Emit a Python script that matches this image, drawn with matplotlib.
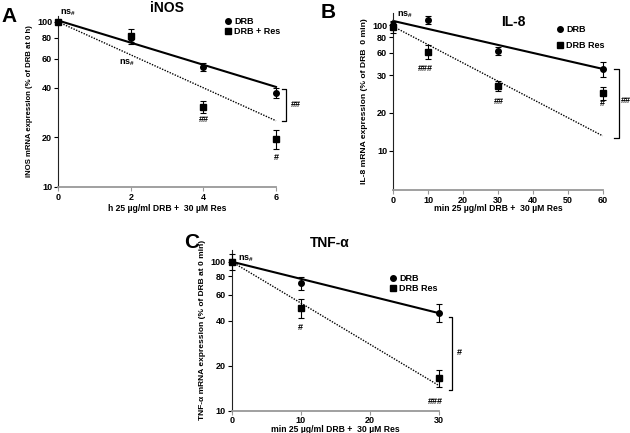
import numpy as np
import matplotlib
matplotlib.use('Agg')
import matplotlib.pyplot as plt

plt.rcParams['font.family'] = ['Liberation Sans', 'DejaVu Sans']
plt.rcParams['font.weight'] = 'bold'
plt.rcParams['mathtext.default'] = 'regular'

# ---- data ----
# A: iNOS, hours
a_t = [0, 2, 4, 6]
a_drb = [100, 80, 53.6, 37.3]
a_drb_err = [2, 4, 2.8, 2.7]
a_res = [100, 82, 30.7, 19.6]
a_res_err = [3, 8.5, 2.6, 2.7]
a_fit_t = [0, 6]
a_fit_drb = [102, 40.4]
a_fit_res = [100, 25.2]

# B: IL-8, minutes
b_t = [0, 10, 30, 60]
b_drb = [100, 110, 62.4, 44.8]
b_drb_err = [6, 7.5, 5, 6]
b_res = [97, 61.5, 32.8, 28.7]
b_res_err = [11, 8, 3.2, 3.2]
b_fit_t = [0, 60]
b_fit_drb = [108, 44.8]
b_fit_res = [97.5, 13.1]

# C: TNF-alpha, minutes
c_t = [0, 10, 30]
c_drb = [100, 71.6, 45.5]
c_drb_err = [4, 7, 6.4]
c_res = [100, 49.1, 16.6]
c_res_err = [12, 7, 2.2]
c_fit_t = [0, 30]
c_fit_drb = [100, 45.1]
c_fit_res = [100, 14.7]

W, H = 630, 433
fig = plt.figure(figsize=(W / 100, H / 100), dpi=100)


def px_axes(x0, x1, y_top, y_bot):
    return fig.add_axes([x0 / W, (H - y_bot) / H, (x1 - x0) / W, (y_bot - y_top) / H])


def style(ax, xlim, ylim, xticks, yticks, ylabels):
    ax.set_yscale('log')
    ax.set_xlim(*xlim)
    ax.set_ylim(*ylim)
    ax.set_xticks(xticks)
    ax.set_yticks(yticks)
    ax.set_yticklabels(ylabels)
    ax.yaxis.set_minor_locator(matplotlib.ticker.NullLocator())
    ax.spines['top'].set_visible(False)
    ax.spines['right'].set_visible(False)
    ax.spines['left'].set_color('#222222')
    ax.spines['bottom'].set_color('#999999')
    ax.spines['bottom'].set_linewidth(1.3)
    ax.tick_params(axis='both', labelsize=6.5, length=3, width=0.8, pad=1.5)
    ax.tick_params(axis='x', colors='#999999', labelcolor='black', pad=1)
    for lab in ax.get_xticklabels() + ax.get_yticklabels():
        lab.set_fontweight('bold')


def draw(ax, t, drb, drb_err, res, res_err, fit_t, fit_drb, fit_res, cap):
    ax.plot(fit_t, fit_drb, color='black', lw=1.5, clip_on=False, zorder=2)
    ax.plot(fit_t, fit_res, color='black', lw=1.0, ls=(0, (1, 1)), clip_on=False, zorder=2)
    ax.errorbar(t, drb, yerr=drb_err, fmt='o', color='black', ms=4, capsize=cap,
                elinewidth=0.8, capthick=0.8, clip_on=False, zorder=3)
    ax.errorbar(t, res, yerr=res_err, fmt='s', color='black', ms=4, capsize=cap,
                elinewidth=0.8, capthick=0.8, clip_on=False, zorder=3)


def bracket(ax, x0, x1, y0, y1):
    ax.plot([x0, x1, x1, x0], [y0, y0, y1, y1], color='black', lw=0.9, clip_on=False)


def legend(ax, labels, x, y, spacing):
    handles = [matplotlib.lines.Line2D([], [], marker=m, ls='none', color='black', ms=4)
               for m in ['o', 's']]
    ax.legend(handles, labels, loc='upper left', bbox_to_anchor=(x / W, (H - y) / H),
              bbox_transform=fig.transFigure, frameon=False, fontsize=6.5,
              handlelength=0.6, handletextpad=0.4, labelspacing=spacing,
              borderpad=0, borderaxespad=0)


ns = r'ns$_{\#}$'
txt = dict(fontsize=6.5, fontweight='bold', ha='center', va='center')

# ---- panel A ----
axA = px_axes(58.3, 276, 16, 187)
style(axA, (0, 6), (10, 108.7), a_t, [10, 20, 40, 60, 80, 100],
      ['10', '20', '40', '60', '80', '100'])
draw(axA, a_t, a_drb, a_drb_err, a_res, a_res_err, a_fit_t, a_fit_drb, a_fit_res, 2.5)
axA.set_xlabel('h 25 µg/ml DRB +  30 µM Res', fontsize=6.2, fontweight='bold', labelpad=2)
axA.set_ylabel('iNOS mRNA expression (% of DRB at 0 h)', fontsize=5.6,
               fontweight='bold', labelpad=3)
axA.text(0.05, 114, ns, fontsize=6.5, ha='left', va='center')
axA.text(1.9, 57, ns, fontsize=6.5, ha='center', va='center')
axA.text(4, 25.5, '##', **txt)
axA.text(6, 15, '#', **txt)
bracket(axA, 6.17, 6.28, 39, 25.2)
axA.text(6.42, 31.4, '##', fontsize=6.5, fontweight='bold', ha='left', va='center')
legend(axA, ['DRB', 'DRB + Res'], 225, 17, 0.15)
fig.text(167 / W, (H - 8) / H, 'iNOS', fontsize=10, fontweight='bold', ha='center', va='center')
fig.text(9 / W, (H - 16) / H, 'A', fontsize=15, fontweight='bold', ha='center', va='center')

# ---- panel B ----
axB = px_axes(393.3, 602.7, 13, 190)
style(axB, (0, 60), (4.85, 125), [0, 10, 20, 30, 40, 50, 60], [10, 20, 40, 60, 80, 100],
      ['10', '20', '30', '60', '80', '100'])
draw(axB, b_t, b_drb, b_drb_err, b_res, b_res_err, b_fit_t, b_fit_drb, b_fit_res, 2.5)
axB.set_xlabel('min 25 µg/ml DRB +  30 µM Res', fontsize=6.2, fontweight='bold', labelpad=-0.5)
axB.set_ylabel('IL-8 mRNA expression (% of DRB  0 min)', fontsize=6.1,
               fontweight='bold', labelpad=3)
axB.text(1.0, 121, ns, fontsize=6.5, ha='left', va='center')
axB.text(9.1, 44.8, '###', **txt)
axB.text(30.1, 24.4, '##', **txt)
axB.text(60, 23.8, '#', **txt)
bracket(axB, 63.3, 64.6, 44.6, 12.7)
axB.text(65.2, 24.9, '##', fontsize=6.5, fontweight='bold', ha='left', va='center')
legend(axB, ['DRB', 'DRB Res'], 557, 25, 0.75)
fig.text(513 / W, (H - 22) / H, 'IL-8', fontsize=10, fontweight='bold', ha='center', va='center')
fig.text(328 / W, (H - 12) / H, 'B', fontsize=15, fontweight='bold', ha='center', va='center')

# ---- panel C ----
axC = px_axes(231.7, 439.3, 250, 410.7)
style(axC, (0, 30), (10, 119.8), [0, 10, 20, 30], [10, 20, 40, 60, 80, 100],
      ['10', '20', '40', '60', '80', '100'])
draw(axC, c_t, c_drb, c_drb_err, c_res, c_res_err, c_fit_t, c_fit_drb, c_fit_res, 2.5)
axC.set_xlabel('min 25 µg/ml DRB +  30 µM Res', fontsize=6.2, fontweight='bold', labelpad=-0.3)
axC.set_ylabel('TNF-α mRNA expression (% of DRB at 0 min)', fontsize=6.0,
               fontweight='bold', labelpad=3)
axC.text(0.9, 104, ns, fontsize=6.5, ha='left', va='center')
axC.text(9.85, 35.9, '#', **txt)
axC.text(29.5, 11.6, '###', **txt)
bracket(axC, 31.4, 31.9, 42.4, 13.8)
axC.text(32.6, 24.5, '#', fontsize=6.5, fontweight='bold', ha='left', va='center')
legend(axC, ['DRB', 'DRB Res'], 390, 274, 0.1)
fig.text(330 / W, (H - 243) / H, 'TNF-α', fontsize=10, fontweight='bold', ha='center', va='center')
fig.text(192 / W, (H - 243) / H, 'C', fontsize=15, fontweight='bold', ha='center', va='center')

fig.savefig('out.png', dpi=100)
